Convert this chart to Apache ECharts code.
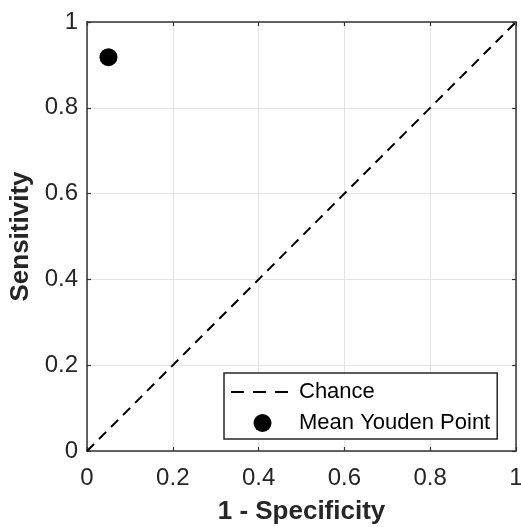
<!DOCTYPE html>
<html>
<head>
    <meta charset="UTF-8">
    <title>ROC</title>
    <script src="https://cdn.jsdelivr.net/npm/echarts@6/dist/echarts.min.js"></script>
</head>
<body style="margin:0;background:#fff">
<div id="main" style="width:521px;height:527px;"></div>
<script type="text/javascript">
    // data
    var chanceLine = [[0, 0], [1, 1]];
    var youdenPoint = [[0.05, 0.918]];
    var axisTicks = [0, 0.2, 0.4, 0.6, 0.8, 1];

    var font = 'Liberation Sans, Arial, sans-serif';
    var axisColor = '#262626';

    function baseAxis(pos, showLabel) {
        return {
            type: 'value',
            position: pos,
            min: axisTicks[0],
            max: axisTicks[axisTicks.length - 1],
            interval: axisTicks[1] - axisTicks[0],
            axisLine: {show: true, onZero: false, lineStyle: {color: '#333', width: 1.5}},
            axisTick: {show: true, inside: true, length: 4, lineStyle: {color: '#333', width: 1.2}},
            axisLabel: {show: showLabel, color: axisColor, fontSize: 24, fontFamily: font, margin: 9},
            splitLine: {show: showLabel, lineStyle: {color: '#e3e3e3', width: 1}}
        };
    }

    var xBottom = baseAxis('bottom', true);
    xBottom.axisLabel.margin = 15;
    xBottom.name = '1 - Specificity';
    xBottom.nameLocation = 'middle';
    xBottom.nameGap = 48;
    xBottom.nameTextStyle = {color: axisColor, fontSize: 26, fontWeight: 'bold', fontFamily: font};

    var yLeft = baseAxis('left', true);
    yLeft.name = 'Sensitivity';
    yLeft.nameLocation = 'middle';
    yLeft.nameGap = 52;
    yLeft.nameTextStyle = {color: axisColor, fontSize: 26, fontWeight: 'bold', fontFamily: font};

    var myChart = echarts.init(document.getElementById('main'));
    var option = {
        animation: false,
        grid: {left: 87, right: 5, top: 22, bottom: 76, containLabel: false, outerBoundsMode: 'none'},
        xAxis: [xBottom, baseAxis('top', false)],
        yAxis: [yLeft, baseAxis('right', false)],
        legend: {
            orient: 'vertical',
            left: 224,
            top: 373,
            padding: [8, 7, 5, 6],
            itemGap: 9,
            itemWidth: 63,
            itemHeight: 18,
            borderColor: '#262626',
            borderWidth: 1.5,
            borderRadius: 0,
            backgroundColor: '#fff',
            lineStyle: {type: [13, 9]},
            textStyle: {color: '#000', fontSize: 22, lineHeight: 20, fontFamily: font},
            data: [
                {name: 'Chance', itemStyle: {color: 'rgba(0,0,0,0)', borderWidth: 0}},
                'Mean Youden Point'
            ]
        },
        series: [
            {
                name: 'Chance',
                type: 'line',
                data: chanceLine,
                symbol: 'none',
                lineStyle: {color: '#000', width: 2, type: [10, 7]},
                itemStyle: {color: '#000'}
            },
            {
                name: 'Mean Youden Point',
                type: 'scatter',
                data: youdenPoint,
                symbol: 'circle',
                symbolSize: 18,
                itemStyle: {color: '#000', opacity: 1}
            }
        ]
    };
    myChart.setOption(option);
</script>
</body>
</html>
